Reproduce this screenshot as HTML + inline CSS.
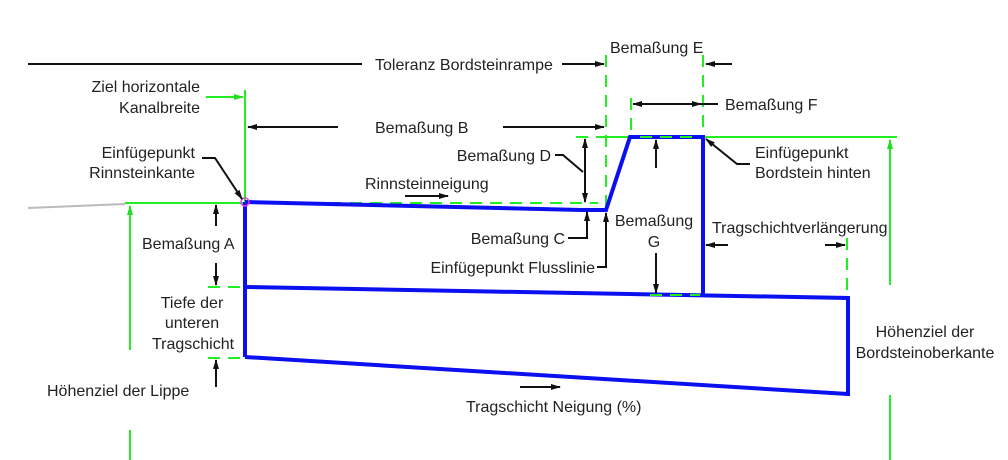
<!DOCTYPE html>
<html><head><meta charset="utf-8"><style>
html,body{margin:0;padding:0;background:#fff;}
svg{display:block;}
text{font-family:"Liberation Sans",sans-serif;font-size:16px;fill:#222;}
</style></head><body>
<svg width="1008" height="460" viewBox="0 0 1008 460" xmlns="http://www.w3.org/2000/svg">
<defs>
<marker id="ab" markerWidth="10" markerHeight="8" refX="9" refY="4" orient="auto" markerUnits="userSpaceOnUse"><path d="M0,1 L10,4 L0,7 z" fill="#111"/></marker>
<marker id="ag" markerWidth="10" markerHeight="8" refX="9" refY="4" orient="auto" markerUnits="userSpaceOnUse"><path d="M0,1 L10,4 L0,7 z" fill="#22dd22"/></marker>
</defs>

<line x1="28" y1="208" x2="125" y2="204" stroke="#bbb" stroke-width="2"/>

<g stroke="#22ee22" stroke-width="2" fill="none">
<line x1="125" y1="203" x2="245" y2="203"/>
<line x1="245" y1="90" x2="245" y2="203"/>
<line x1="206" y1="97" x2="243" y2="97" marker-end="url(#ag)"/>
<line x1="130" y1="350" x2="130" y2="206" marker-end="url(#ag)"/>
<line x1="130" y1="430" x2="130" y2="460"/>
<line x1="606" y1="137" x2="897" y2="137"/>
<line x1="890" y1="285" x2="890" y2="140" marker-end="url(#ag)"/>
<line x1="890" y1="395" x2="890" y2="460"/>
</g>
<g stroke="#22ee22" stroke-width="2" fill="none" stroke-dasharray="12,8">
<line x1="606" y1="55" x2="606" y2="210"/>
<line x1="703" y1="55" x2="703" y2="295"/>
<line x1="631" y1="98" x2="631" y2="137"/>
<line x1="576" y1="137" x2="606" y2="137"/>
<line x1="250" y1="203" x2="598" y2="203"/>
<line x1="208" y1="287" x2="245" y2="287"/>
<line x1="208" y1="358" x2="245" y2="358"/>
<line x1="648" y1="295" x2="703" y2="295"/>
<line x1="847" y1="238" x2="847" y2="295"/>
</g>

<g stroke="#0a10f0" stroke-width="4" fill="none" stroke-linejoin="miter">
<polyline points="245,202 582,210 606,210 630,137 703,137 703,295"/>
<line x1="245" y1="202" x2="245" y2="357"/>
<polyline points="245,287 848,298 848,394 245,357"/>
</g>
<g stroke="#22ee22" stroke-width="2" stroke-dasharray="12,8">
<line x1="640" y1="137" x2="700" y2="137"/>
<line x1="650" y1="295" x2="700" y2="295"/>
</g>
<circle cx="245" cy="202" r="4" fill="none" stroke="#e040e0" stroke-width="1.5"/>

<g stroke="#111" stroke-width="2" fill="none">
<line x1="28" y1="64" x2="362" y2="64"/>
<line x1="562" y1="64" x2="604" y2="64" marker-end="url(#ab)"/>
<line x1="732" y1="64" x2="706" y2="64" marker-end="url(#ab)"/>
<line x1="665" y1="104" x2="633" y2="104" marker-end="url(#ab)"/>
<line x1="665" y1="104" x2="701" y2="104" marker-end="url(#ab)"/>
<line x1="700" y1="104" x2="718" y2="104"/>
<line x1="338" y1="127" x2="248" y2="127" marker-end="url(#ab)"/>
<line x1="503" y1="127" x2="604" y2="127" marker-end="url(#ab)"/>
<polyline points="202,158 215,158 242,199" marker-end="url(#ab)"/>
<line x1="405" y1="196" x2="448" y2="196" marker-end="url(#ab)"/>
<line x1="216" y1="226" x2="216" y2="205" marker-end="url(#ab)"/>
<line x1="216" y1="263" x2="216" y2="285" marker-end="url(#ab)"/>
<line x1="216" y1="387" x2="216" y2="360" marker-end="url(#ab)"/>
<polyline points="555,155 563,155 583,172"/>
<line x1="585" y1="170" x2="585" y2="139" marker-end="url(#ab)"/>
<line x1="585" y1="170" x2="585" y2="202" marker-end="url(#ab)"/>
<polyline points="568,238 587,238 587,212" marker-end="url(#ab)"/>
<polyline points="597,267 606,267 606,213" marker-end="url(#ab)"/>
<line x1="656" y1="168" x2="656" y2="140" marker-end="url(#ab)"/>
<line x1="656" y1="253" x2="656" y2="293" marker-end="url(#ab)"/>
<polyline points="750,164 737,164 706,139" marker-end="url(#ab)"/>
<line x1="728" y1="245" x2="706" y2="245" marker-end="url(#ab)"/>
<line x1="825" y1="245" x2="845" y2="245" marker-end="url(#ab)"/>
<line x1="520" y1="387" x2="560" y2="387" marker-end="url(#ab)"/>
</g>

<text x="375" y="70">Toleranz Bordsteinrampe</text>
<text x="610" y="53">Bemaßung E</text>
<text x="725" y="110">Bemaßung F</text>
<text x="200" y="92" text-anchor="end">Ziel horizontale</text>
<text x="200" y="113" text-anchor="end">Kanalbreite</text>
<text x="375" y="133">Bemaßung B</text>
<text x="195" y="158" text-anchor="end">Einfügepunkt</text>
<text x="195" y="178" text-anchor="end">Rinnsteinkante</text>
<text x="365" y="189">Rinnsteinneigung</text>
<text x="551" y="161" text-anchor="end">Bemaßung D</text>
<text x="565" y="244" text-anchor="end">Bemaßung C</text>
<text x="595" y="273" text-anchor="end">Einfügepunkt Flusslinie</text>
<text x="654" y="226" text-anchor="middle">Bemaßung</text>
<text x="654" y="247" text-anchor="middle">G</text>
<text x="755" y="158">Einfügepunkt</text>
<text x="755" y="178">Bordstein hinten</text>
<text x="712" y="233">Tragschichtverlängerung</text>
<text x="142" y="249">Bemaßung A</text>
<text x="192" y="308" text-anchor="middle">Tiefe der</text>
<text x="192" y="328" text-anchor="middle">unteren</text>
<text x="193" y="349" text-anchor="middle">Tragschicht</text>
<text x="47" y="396">Höhenziel der Lippe</text>
<text x="925" y="337" text-anchor="middle">Höhenziel der</text>
<text x="925" y="358" text-anchor="middle">Bordsteinoberkante</text>
<text x="466" y="412">Tragschicht Neigung (%)</text>
</svg>
</body></html>
